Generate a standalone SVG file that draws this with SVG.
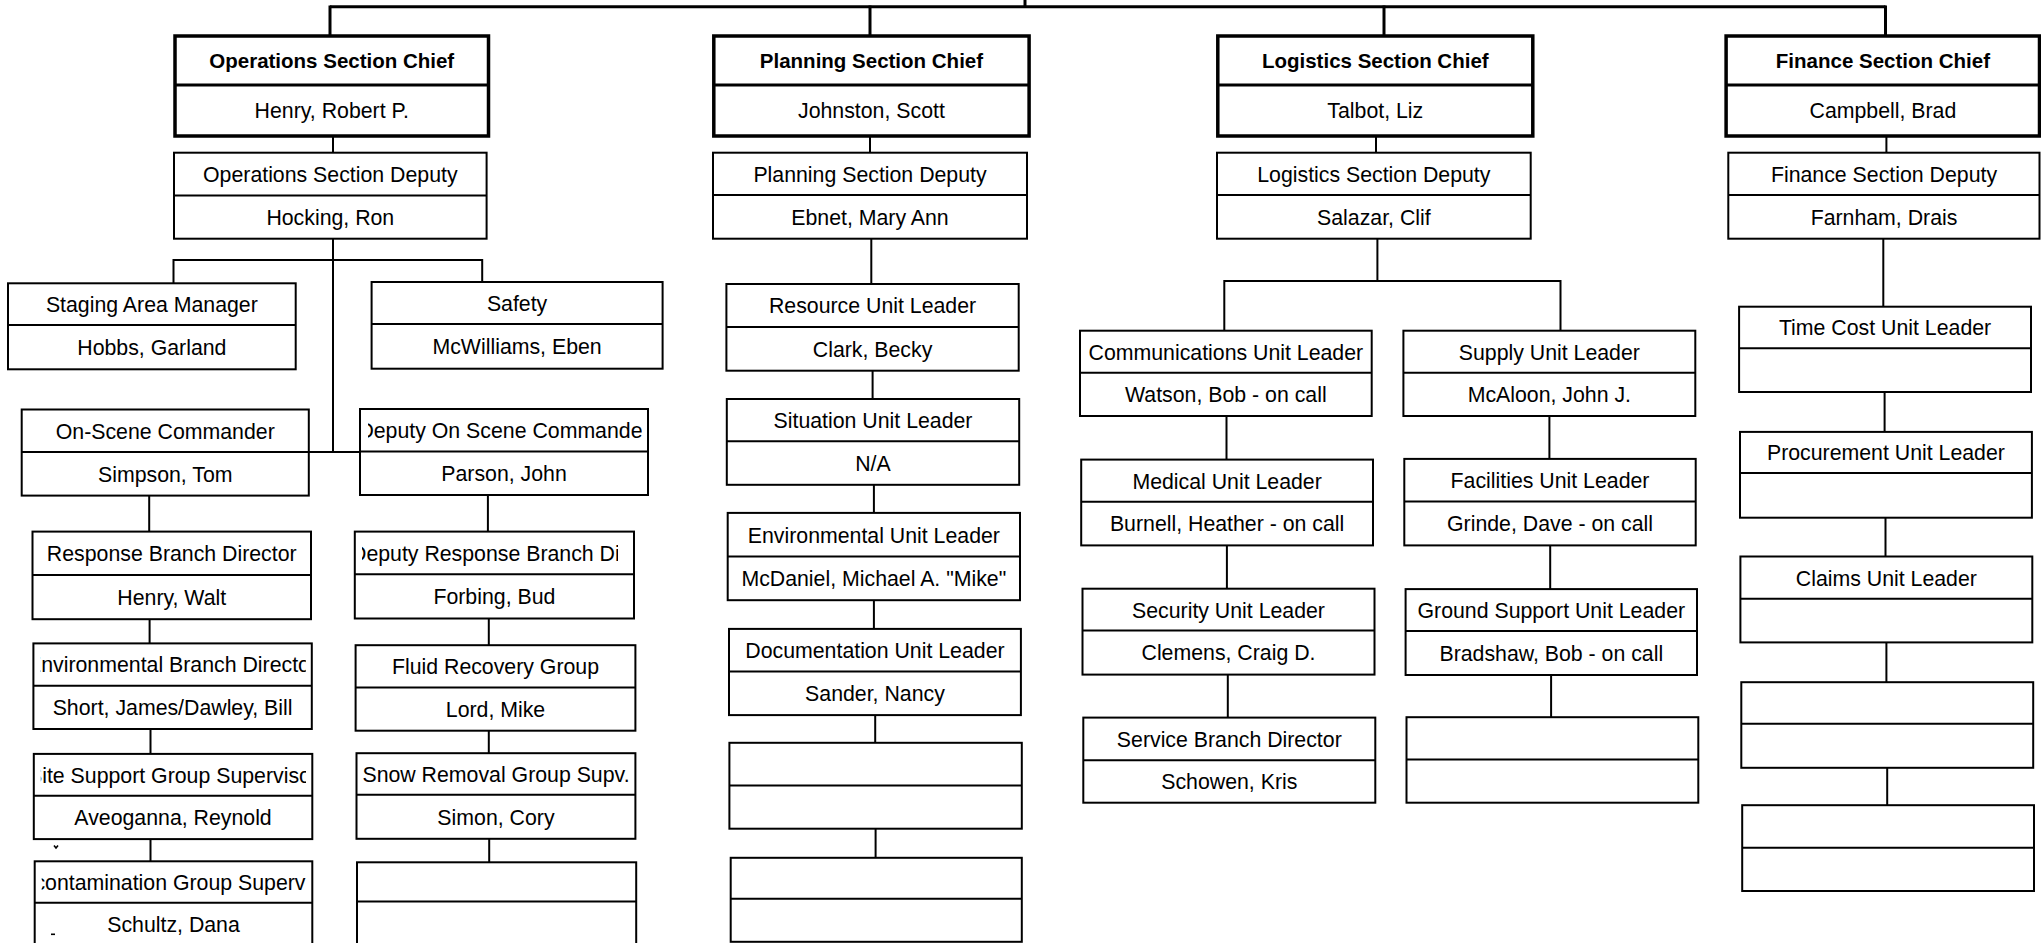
<svg xmlns="http://www.w3.org/2000/svg" width="2041" height="943" viewBox="0 0 2041 943">
<style>
.box{fill:#fff;stroke:#000;stroke-width:2}
.chief{fill:#fff;stroke:#000;stroke-width:3.5}
.dv{stroke:#000;stroke-width:2}
.cdv{stroke:#000;stroke-width:3}
.t{font-family:"Liberation Sans",Arial,Helvetica,sans-serif;font-size:21.3px;fill:#000;text-anchor:middle}
.ts{font-family:"Liberation Sans",Arial,Helvetica,sans-serif;font-size:21.3px;fill:#000;text-anchor:start}
.tb{font-family:"Liberation Sans",Arial,Helvetica,sans-serif;font-size:20.5px;font-weight:bold;fill:#000;text-anchor:middle}
#connectors line,#connectors polyline{stroke:#000;stroke-width:2;fill:none}
#connectors .bus{stroke-width:3}
.mark{stroke:#000;stroke-width:1.6;fill:none}
</style>
<defs>
<clipPath id="cp-dosc"><rect x="368" y="409" width="274" height="43"/></clipPath>
<clipPath id="cp-dresp"><rect x="362" y="531" width="256" height="44"/></clipPath>
<clipPath id="cp-envb"><rect x="40.4" y="643" width="265.4" height="43"/></clipPath>
<clipPath id="cp-site"><rect x="40.8" y="753" width="265.2" height="43"/></clipPath>
<clipPath id="cp-decon"><rect x="41.7" y="861" width="264.3" height="42"/></clipPath>
<clipPath id="cp-snow"><rect x="362" y="753" width="268" height="42"/></clipPath>
</defs>
<rect x="0" y="0" width="2041" height="943" fill="#fff"/>

<g id="connectors">
<line class="bus" x1="330" y1="6.7" x2="1885.5" y2="6.7"/>
<line class="bus" x1="1025" y1="0" x2="1025" y2="6.7"/>
<line class="bus" x1="330" y1="5.5" x2="330" y2="36"/>
<line class="bus" x1="870" y1="5.5" x2="870" y2="36"/>
<line class="bus" x1="1384" y1="5.5" x2="1384" y2="36"/>
<line class="bus" x1="1885.5" y1="5.5" x2="1885.5" y2="36"/>
<line x1="333" y1="136" x2="333" y2="152.7"/>
<line x1="870" y1="136" x2="870" y2="152.7"/>
<line x1="1376" y1="136" x2="1376" y2="152.7"/>
<line x1="1886.4" y1="136" x2="1886.4" y2="152.7"/>
<line x1="333" y1="238.7" x2="333" y2="452.7"/>
<polyline points="173.5,283.3 173.5,260 482.2,260 482.2,282"/>
<line x1="308.8" y1="452" x2="360" y2="452"/>
<line x1="149.2" y1="495.6" x2="149.2" y2="531.6"/>
<line x1="149.6" y1="619.2" x2="149.6" y2="643.4"/>
<line x1="150.5" y1="729" x2="150.5" y2="753.9"/>
<line x1="150.5" y1="839.1" x2="150.5" y2="861.3"/>
<line x1="487.9" y1="495" x2="487.9" y2="531.6"/>
<line x1="488.8" y1="618.5" x2="488.8" y2="645.2"/>
<line x1="488.8" y1="730.7" x2="488.8" y2="753.2"/>
<line x1="489.2" y1="838.8" x2="489.2" y2="862.3"/>
<line x1="871.3" y1="238.7" x2="871.3" y2="284"/>
<line x1="872.6" y1="370.7" x2="872.6" y2="399"/>
<line x1="873.9" y1="484.8" x2="873.9" y2="512.9"/>
<line x1="873.9" y1="600.2" x2="873.9" y2="628.9"/>
<line x1="875.2" y1="715.1" x2="875.2" y2="742.8"/>
<line x1="875.6" y1="828.7" x2="875.6" y2="857.8"/>
<line x1="1377.4" y1="238.7" x2="1377.4" y2="281"/>
<polyline points="1224.3,330.7 1224.3,281 1560.5,281 1560.5,330.7"/>
<line x1="1226.5" y1="416" x2="1226.5" y2="459.6"/>
<line x1="1226.9" y1="545.4" x2="1226.9" y2="588.7"/>
<line x1="1227.8" y1="674.6" x2="1227.8" y2="717.6"/>
<line x1="1549.4" y1="416" x2="1549.4" y2="458.9"/>
<line x1="1550.2" y1="545.4" x2="1550.2" y2="589.1"/>
<line x1="1551.1" y1="675" x2="1551.1" y2="717.2"/>
<line x1="1883.3" y1="238.7" x2="1883.3" y2="306.7"/>
<line x1="1884.6" y1="392" x2="1884.6" y2="431.9"/>
<line x1="1885.5" y1="517.7" x2="1885.5" y2="556.5"/>
<line x1="1886.4" y1="642.4" x2="1886.4" y2="682.2"/>
<line x1="1887.2" y1="767.8" x2="1887.2" y2="805.2"/>
</g>

<!-- Operations -->
<g id="ops-chief"><rect class="chief" x="175" y="36" width="313.5" height="100"/><line class="cdv" x1="175" y1="85" x2="488.5" y2="85"/><text class="tb" x="331.75" y="68.3">Operations Section Chief</text><text class="t" x="331.75" y="118.3">Henry, Robert P.</text></g>
<g id="ops-deputy"><rect class="box" x="174" y="152.7" width="312.6" height="86"/><line class="dv" x1="174" y1="195.5" x2="486.6" y2="195.5"/><text class="t" x="330.3" y="181.9">Operations Section Deputy</text><text class="t" x="330.3" y="224.9">Hocking, Ron</text></g>
<g id="staging"><rect class="box" x="8" y="283.3" width="287.7" height="86"/><line class="dv" x1="8" y1="325" x2="295.7" y2="325"/><text class="t" x="151.85" y="312">Staging Area Manager</text><text class="t" x="151.85" y="355">Hobbs, Garland</text></g>
<g id="safety"><rect class="box" x="371.6" y="282" width="291" height="86.7"/><line class="dv" x1="371.6" y1="324" x2="662.6" y2="324"/><text class="t" x="517.1" y="310.8">Safety</text><text class="t" x="517.1" y="354.2">McWilliams, Eben</text></g>
<g id="on-scene"><rect class="box" x="21.7" y="409.5" width="287.1" height="86.1"/><line class="dv" x1="21.7" y1="452" x2="308.8" y2="452"/><text class="t" x="165.25" y="438.6">On-Scene Commander</text><text class="t" x="165.25" y="481.6">Simpson, Tom</text></g>
<g id="deputy-osc"><rect class="box" x="360" y="409" width="288" height="86"/><line class="dv" x1="360" y1="451.6" x2="648" y2="451.6"/><text class="t" x="504" y="438.1" clip-path="url(#cp-dosc)">Deputy On Scene Commander</text><text class="t" x="504" y="481.1">Parson, John</text></g>
<g id="response"><rect class="box" x="32.5" y="531.6" width="278.5" height="87.6"/><line class="dv" x1="32.5" y1="574.9" x2="311" y2="574.9"/><text class="t" x="171.75" y="561">Response Branch Director</text><text class="t" x="171.75" y="604.9">Henry, Walt</text></g>
<g id="deputy-response"><rect class="box" x="354.8" y="531.6" width="279.2" height="86.9"/><line class="dv" x1="354.8" y1="574.2" x2="634" y2="574.2"/><text class="ts" x="351" y="560.7" clip-path="url(#cp-dresp)">Deputy Response Branch Director</text><text class="t" x="494.4" y="604.2">Forbing, Bud</text></g>
<g id="env-branch"><rect class="box" x="33.4" y="643.4" width="278.4" height="85.6"/><line class="dv" x1="33.4" y1="685.7" x2="311.8" y2="685.7"/><text class="t" x="172" y="672.4" clip-path="url(#cp-envb)">Environmental Branch Director</text><text class="t" x="172.6" y="715.2">Short, James/Dawley, Bill</text></g>
<g id="fluid"><rect class="box" x="355.6" y="645.2" width="279.8" height="85.5"/><line class="dv" x1="355.6" y1="687.4" x2="635.4" y2="687.4"/><text class="t" x="495.5" y="674.1">Fluid Recovery Group</text><text class="t" x="495.5" y="716.9">Lord, Mike</text></g>
<g id="site-support"><rect class="box" x="33.8" y="753.9" width="278.5" height="85.2"/><line class="dv" x1="33.8" y1="795.8" x2="312.3" y2="795.8"/><text class="t" x="173" y="782.7" clip-path="url(#cp-site)">Site Support Group Supervisor</text><text class="t" x="173.05" y="825.3">Aveoganna, Reynold</text></g>
<g id="snow"><rect class="box" x="356.5" y="753.2" width="278.9" height="85.6"/><line class="dv" x1="356.5" y1="794.8" x2="635.4" y2="794.8"/><text class="t" x="496" y="781.8" clip-path="url(#cp-snow)">Snow Removal Group Supv.</text><text class="t" x="495.95" y="824.6">Simon, Cory</text></g>
<g id="decon"><rect class="box" x="34.7" y="861.3" width="277.6" height="86"/><line class="dv" x1="34.7" y1="902.8" x2="312.3" y2="902.8"/><text class="t" x="173.5" y="889.9" clip-path="url(#cp-decon)">Decontamination Group Supervisor</text><text class="t" x="173.5" y="932.2">Schultz, Dana</text></g>
<g id="ops-blank"><rect class="box" x="357" y="862.3" width="279.2" height="86"/><line class="dv" x1="357" y1="901.4" x2="636.2" y2="901.4"/></g>
<g id="marks"><path class="mark" d="M54,845.5 L56,848 L58,845.5"/><path class="mark" d="M51,934.3 L55,934.3" stroke-width="2.4"/></g>

<!-- Planning -->
<g id="plan-chief"><rect class="chief" x="713.8" y="36" width="315.3" height="100"/><line class="cdv" x1="713.8" y1="85" x2="1029.1" y2="85"/><text class="tb" x="871.45" y="68.3">Planning Section Chief</text><text class="t" x="871.45" y="118.3">Johnston, Scott</text></g>
<g id="plan-deputy"><rect class="box" x="713" y="152.7" width="314" height="86"/><line class="dv" x1="713" y1="195" x2="1027" y2="195"/><text class="t" x="870" y="181.7">Planning Section Deputy</text><text class="t" x="870" y="224.7">Ebnet, Mary Ann</text></g>
<g id="resource"><rect class="box" x="726.4" y="284" width="292.3" height="86.7"/><line class="dv" x1="726.4" y1="327" x2="1018.7" y2="327"/><text class="t" x="872.55" y="313.3">Resource Unit Leader</text><text class="t" x="872.55" y="356.7">Clark, Becky</text></g>
<g id="situation"><rect class="box" x="726.8" y="399" width="292.4" height="85.8"/><line class="dv" x1="726.8" y1="441.3" x2="1019.2" y2="441.3"/><text class="t" x="873" y="428">Situation Unit Leader</text><text class="t" x="873" y="470.9">N/A</text></g>
<g id="env-unit"><rect class="box" x="727.7" y="512.9" width="292.3" height="87.3"/><line class="dv" x1="727.7" y1="556.5" x2="1020" y2="556.5"/><text class="t" x="873.85" y="542.5">Environmental Unit Leader</text><text class="t" x="873.85" y="586.2">McDaniel, Michael A. "Mike"</text></g>
<g id="documentation"><rect class="box" x="729" y="628.9" width="291.9" height="86.2"/><line class="dv" x1="729" y1="671.5" x2="1020.9" y2="671.5"/><text class="t" x="874.95" y="658">Documentation Unit Leader</text><text class="t" x="874.95" y="701.1">Sander, Nancy</text></g>
<g id="plan-blank-1"><rect class="box" x="729.4" y="742.8" width="292.4" height="85.9"/><line class="dv" x1="729.4" y1="785.4" x2="1021.8" y2="785.4"/></g>
<g id="plan-blank-2"><rect class="box" x="730.7" y="857.8" width="291.1" height="84"/><line class="dv" x1="730.7" y1="898.7" x2="1021.8" y2="898.7"/></g>

<!-- Logistics -->
<g id="log-chief"><rect class="chief" x="1217.8" y="36" width="315" height="100"/><line class="cdv" x1="1217.8" y1="85" x2="1532.8" y2="85"/><text class="tb" x="1375.3" y="68.3">Logistics Section Chief</text><text class="t" x="1375.3" y="118.3">Talbot, Liz</text></g>
<g id="log-deputy"><rect class="box" x="1217" y="152.7" width="313.7" height="86"/><line class="dv" x1="1217" y1="195" x2="1530.7" y2="195"/><text class="t" x="1373.85" y="181.7">Logistics Section Deputy</text><text class="t" x="1373.85" y="224.7">Salazar, Clif</text></g>
<g id="communications"><rect class="box" x="1080" y="330.7" width="291.7" height="85.3"/><line class="dv" x1="1080" y1="372.7" x2="1371.7" y2="372.7"/><text class="t" x="1225.85" y="359.5">Communications Unit Leader</text><text class="t" x="1225.85" y="402.2">Watson, Bob - on call</text></g>
<g id="supply"><rect class="box" x="1403.4" y="330.7" width="291.9" height="85.3"/><line class="dv" x1="1403.4" y1="372.7" x2="1695.3" y2="372.7"/><text class="t" x="1549.35" y="359.5">Supply Unit Leader</text><text class="t" x="1549.35" y="402.2">McAloon, John J.</text></g>
<g id="medical"><rect class="box" x="1081.2" y="459.6" width="291.8" height="85.8"/><line class="dv" x1="1081.2" y1="501.8" x2="1373" y2="501.8"/><text class="t" x="1227.1" y="488.5">Medical Unit Leader</text><text class="t" x="1227.1" y="531.4">Burnell, Heather - on call</text></g>
<g id="facilities"><rect class="box" x="1404.3" y="458.9" width="291.4" height="86.5"/><line class="dv" x1="1404.3" y1="501.5" x2="1695.7" y2="501.5"/><text class="t" x="1550" y="488">Facilities Unit Leader</text><text class="t" x="1550" y="531.3">Grinde, Dave - on call</text></g>
<g id="security"><rect class="box" x="1082.5" y="588.7" width="292" height="85.9"/><line class="dv" x1="1082.5" y1="630.6" x2="1374.5" y2="630.6"/><text class="t" x="1228.5" y="617.5">Security Unit Leader</text><text class="t" x="1228.5" y="660.4">Clemens, Craig D.</text></g>
<g id="ground-support"><rect class="box" x="1405.6" y="589.1" width="291.4" height="85.9"/><line class="dv" x1="1405.6" y1="631" x2="1697" y2="631"/><text class="t" x="1551.3" y="617.9">Ground Support Unit Leader</text><text class="t" x="1551.3" y="660.8">Bradshaw, Bob - on call</text></g>
<g id="service"><rect class="box" x="1083.3" y="717.6" width="292" height="85.1"/><line class="dv" x1="1083.3" y1="760.2" x2="1375.3" y2="760.2"/><text class="t" x="1229.3" y="746.7">Service Branch Director</text><text class="t" x="1229.3" y="789.3">Schowen, Kris</text></g>
<g id="log-blank"><rect class="box" x="1406.5" y="717.2" width="291.8" height="85.5"/><line class="dv" x1="1406.5" y1="759.5" x2="1698.3" y2="759.5"/></g>

<!-- Finance -->
<g id="fin-chief"><rect class="chief" x="1726.1" y="36" width="313.4" height="100"/><line class="cdv" x1="1726.1" y1="85" x2="2039.5" y2="85"/><text class="tb" x="1882.9" y="68.3">Finance Section Chief</text><text class="t" x="1882.9" y="118.3">Campbell, Brad</text></g>
<g id="fin-deputy"><rect class="box" x="1728.3" y="152.7" width="311.2" height="86"/><line class="dv" x1="1728.3" y1="195" x2="2039.5" y2="195"/><text class="t" x="1884" y="181.7">Finance Section Deputy</text><text class="t" x="1884" y="224.7">Farnham, Drais</text></g>
<g id="time-cost"><rect class="box" x="1739.1" y="306.7" width="291.9" height="85.3"/><line class="dv" x1="1739.1" y1="348.3" x2="2031" y2="348.3"/><text class="t" x="1885.05" y="335.3">Time Cost Unit Leader</text></g>
<g id="procurement"><rect class="box" x="1740" y="431.9" width="291.9" height="85.8"/><line class="dv" x1="1740" y1="473.1" x2="2031.9" y2="473.1"/><text class="t" x="1885.95" y="460.3">Procurement Unit Leader</text></g>
<g id="claims"><rect class="box" x="1740.4" y="556.5" width="291.9" height="85.9"/><line class="dv" x1="1740.4" y1="598.8" x2="2032.3" y2="598.8"/><text class="t" x="1886.35" y="585.5">Claims Unit Leader</text></g>
<g id="fin-blank-1"><rect class="box" x="1741.3" y="682.2" width="291.9" height="85.6"/><line class="dv" x1="1741.3" y1="723.8" x2="2033.2" y2="723.8"/></g>
<g id="fin-blank-2"><rect class="box" x="1742.2" y="805.2" width="291.8" height="85.8"/><line class="dv" x1="1742.2" y1="847.8" x2="2034" y2="847.8"/></g>
</svg>
